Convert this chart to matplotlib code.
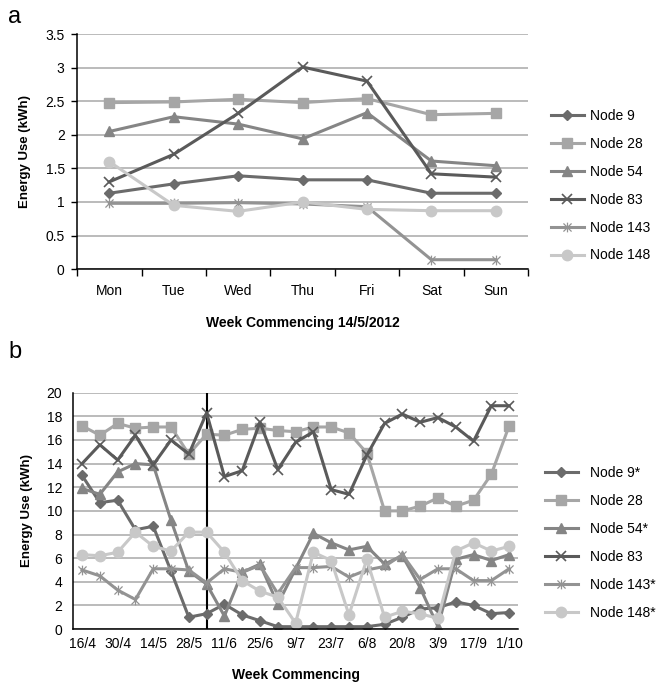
import matplotlib
matplotlib.use("Agg")
import matplotlib.pyplot as plt
from matplotlib.path import Path

plt.rcParams["font.family"] = ["Liberation Sans", "DejaVu Sans"]

DAYS = ["Mon", "Tue", "Wed", "Thu", "Fri", "Sat", "Sun"]
DAILY_LABELS = ["Node 9", "Node 28", "Node 54", "Node 83", "Node 143", "Node 148"]
DAILY_NODE9 = [1.13, 1.27, 1.39, 1.33, 1.33, 1.13, 1.13]
DAILY_NODE28 = [2.48, 2.49, 2.53, 2.48, 2.54, 2.30, 2.32]
DAILY_NODE54 = [2.05, 2.27, 2.16, 1.94, 2.33, 1.61, 1.54]
DAILY_NODE83 = [1.30, 1.71, 2.32, 3.01, 2.80, 1.42, 1.37]
DAILY_NODE143 = [0.98, 0.98, 0.99, 0.97, 0.93, 0.14, 0.14]
DAILY_NODE148 = [1.60, 0.95, 0.86, 1.00, 0.89, 0.87, 0.87]

WEEKS = ["16/4", "23/4", "30/4", "7/5", "14/5", "21/5", "28/5", "4/6", "11/6",
         "18/6", "25/6", "2/7", "9/7", "16/7", "23/7", "30/7", "6/8", "13/8",
         "20/8", "27/8", "3/9", "10/9", "17/9", "24/9", "1/10"]
WEEKLY_LABELS = ["Node 9*", "Node 28", "Node 54*", "Node 83", "Node 143*", "Node 148*"]
WEEKLY_NODE9 = [13.0, 10.7, 10.9, 8.4, 8.7, 4.9, 1.0, 1.3, 2.1, 1.2, 0.7, 0.2, 0.2,
                0.2, 0.2, 0.2, 0.2, 0.4, 1.0, 1.7, 1.8, 2.3, 2.0, 1.3, 1.4]
WEEKLY_NODE28 = [17.2, 16.4, 17.4, 17.0, 17.1, 17.1, 14.8, 16.5, 16.4, 16.9, 17.0, 16.8, 16.7,
                 17.1, 17.1, 16.6, 14.9, 10.0, 10.0, 10.4, 11.1, 10.4, 10.9, 13.1, 17.2]
WEEKLY_NODE54 = [11.9, 11.4, 13.3, 14.0, 13.9, 9.2, 4.9, 3.8, 1.1, 4.8, 5.5, 2.1, 5.1,
                 8.1, 7.3, 6.7, 7.0, 5.5, 6.2, 3.5, 0.2, 5.9, 6.3, 5.8, 6.3]
WEEKLY_NODE83 = [14.0, 15.6, 14.3, 16.4, 13.9, 16.0, 14.8, 18.3, 12.9, 13.4, 17.5, 13.5, 15.8,
                 16.7, 11.8, 11.4, 14.7, 17.4, 18.2, 17.5, 17.9, 17.1, 15.9, 18.9, 18.9]
WEEKLY_NODE143 = [5.0, 4.5, 3.3, 2.5, 5.1, 5.1, 5.0, 3.9, 5.1, 4.8, 5.4, 3.0, 5.2,
                  5.2, 5.3, 4.4, 5.0, 5.3, 6.3, 4.2, 5.1, 5.1, 4.1, 4.1, 5.1]
WEEKLY_NODE148 = [6.3, 6.2, 6.5, 8.2, 7.0, 6.6, 8.2, 8.2, 6.5, 4.1, 3.2, 2.7, 0.5,
                  6.5, 5.8, 1.2, 5.9, 1.0, 1.5, 1.3, 0.9, 6.6, 7.3, 6.6, 7.0]
SPLIT_WEEK = "4/6"

# asterisk marker like the spreadsheet one
STAR = Path([(-1, -1), (1, 1), (-1, 1), (1, -1), (0, -1.2), (0, 1.2)],
            [Path.MOVETO, Path.LINETO, Path.MOVETO, Path.LINETO, Path.MOVETO, Path.LINETO])

STYLES = [
    dict(color="#6b6b6b", marker="D", ms=5.5),
    dict(color="#a6a6a6", marker="s", ms=7),
    dict(color="#858585", marker="^", ms=7),
    dict(color="#5a5a5a", marker="x", ms=7, mew=1.2),
    dict(color="#939393", marker=STAR, ms=7, mew=0.9, mfc="none"),
    dict(color="#c8c8c8", marker="o", ms=7.5),
]
GRID_COLOR = "#a8a8a8"


def style_axes(ax):
    ax.grid(axis="y", color=GRID_COLOR, linewidth=1.1)
    ax.set_axisbelow(True)
    for side in ["top", "right"]:
        ax.spines[side].set_visible(False)
    for side in ["left", "bottom"]:
        ax.spines[side].set_color("black")
        ax.spines[side].set_linewidth(1.1)
    ax.tick_params(labelsize=10, colors="black", width=1)


def draw_series(ax, x, series, labels):
    for vals, lab, st in zip(series, labels, STYLES):
        st = dict(st)
        color = st.pop("color")
        mfc = st.pop("mfc", color)
        ax.plot(x, vals, color=color, lw=2.2, mec=color, mfc=mfc, label=lab, **st)


def plot_daily(fig):
    ax = fig.add_axes([0.116, 0.606, 0.678, 0.344])
    x = range(len(DAYS))
    series = [DAILY_NODE9, DAILY_NODE28, DAILY_NODE54, DAILY_NODE83, DAILY_NODE143, DAILY_NODE148]
    draw_series(ax, x, series, DAILY_LABELS)
    style_axes(ax)
    ax.set_xlim(-0.5, len(DAYS) - 0.5)
    ax.set_ylim(0, 3.5)
    ax.set_yticks([0, 0.5, 1, 1.5, 2, 2.5, 3, 3.5])
    ax.set_yticklabels(["0", "0.5", "1", "1.5", "2", "2.5", "3", "3.5"])
    ax.set_xticks(list(x))
    ax.set_xticklabels(DAYS)
    ax.set_xticks([i - 0.5 for i in range(len(DAYS) + 1)], minor=True)
    ax.tick_params(axis="x", which="major", length=0, pad=11)
    ax.tick_params(axis="x", which="minor", length=5, width=1)
    ax.tick_params(axis="y", length=4, pad=5)
    ax.set_ylabel("Energy Use (kWh)", fontsize=9.5, fontweight="bold", labelpad=10)
    ax.set_xlabel("Week Commencing 14/5/2012", fontsize=10, fontweight="bold", labelpad=13)
    fig.legend(loc="center left", bbox_to_anchor=(0.828, 0.728), frameon=False,
               fontsize=10, handlelength=2.4, handletextpad=0.4, labelspacing=1.0,
               borderaxespad=0, borderpad=0)
    fig.text(0.012, 0.975, "a", fontsize=17, va="center")


def plot_weekly(fig):
    ax = fig.add_axes([0.11, 0.079, 0.669, 0.346])
    x = range(len(WEEKS))
    series = [WEEKLY_NODE9, WEEKLY_NODE28, WEEKLY_NODE54, WEEKLY_NODE83, WEEKLY_NODE143, WEEKLY_NODE148]
    draw_series(ax, x, series, WEEKLY_LABELS)
    style_axes(ax)
    ax.axvline(WEEKS.index(SPLIT_WEEK), color="black", lw=1.5, zorder=1.5)
    ax.set_xlim(-0.5, len(WEEKS) - 0.5)
    ax.set_ylim(0, 20)
    ax.set_yticks(range(0, 21, 2))
    ax.set_xticks(list(x)[::2])
    ax.set_xticklabels(WEEKS[::2])
    ax.tick_params(axis="x", length=0, pad=6)
    ax.tick_params(axis="y", length=0, pad=8)
    ax.set_ylabel("Energy Use (kWh)", fontsize=9.5, fontweight="bold", labelpad=10)
    ax.set_xlabel("Week Commencing", fontsize=10, fontweight="bold", labelpad=12)
    handles, labels = ax.get_legend_handles_labels()
    ax.legend(handles, labels, loc="center left", bbox_to_anchor=(0.819, 0.205),
              bbox_transform=fig.transFigure, frameon=False, fontsize=10,
              handlelength=2.4, handletextpad=0.9, labelspacing=1.0,
              borderaxespad=0, borderpad=0)
    fig.text(0.012, 0.485, "b", fontsize=17, va="center")


if __name__ == "__main__":
    fig = plt.figure(figsize=(6.65, 6.83), dpi=100)
    plot_daily(fig)
    plot_weekly(fig)
    fig.savefig("out.png", dpi=100)
